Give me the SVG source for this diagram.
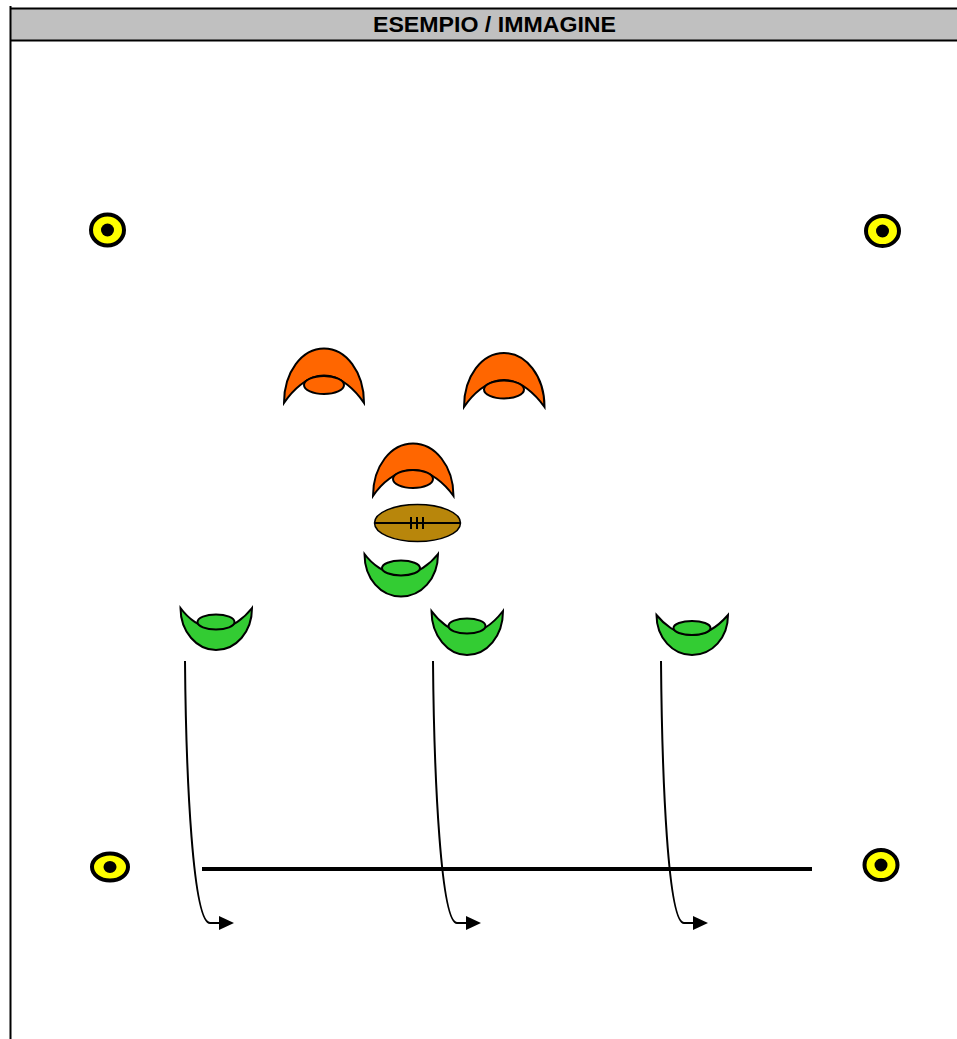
<svg xmlns="http://www.w3.org/2000/svg" width="957" height="1039" viewBox="0 0 957 1039">
<style>
.o{fill:#ff6600;stroke:#000;stroke-width:2;stroke-miterlimit:6}
.g{fill:#33cc33;stroke:#000;stroke-width:2;stroke-miterlimit:6}
.c{fill:#ffff00;stroke:#000;stroke-width:4}
.d{fill:#000}
.l{fill:none;stroke:#000;stroke-width:2}
.t{font-family:"Liberation Sans",Arial,sans-serif;font-weight:bold;font-size:22px;fill:#000;text-anchor:middle}
</style>
<defs>
<marker id="a" markerUnits="userSpaceOnUse" markerWidth="16" markerHeight="14" refX="1" refY="7" orient="auto"><path d="M0 0L15 7L0 14Z" fill="#000"/></marker>
</defs>
<g id="header">
<rect x="10" y="8" width="947" height="33" fill="#c0c0c0"/>
<path d="M10 8.500H957M10 40.500H957" stroke="#000" stroke-width="2" fill="none"/>
<path d="M10.500 6V1039" stroke="#000" stroke-width="2" fill="none"/>
<text class="t" x="494.500" y="32" textLength="243" lengthAdjust="spacingAndGlyphs">ESEMPIO / IMMAGINE</text>
</g>
<g id="cone-tl"><ellipse class="c" cx="107.500" cy="230" rx="16.500" ry="15.500"/><circle class="d" cx="107.500" cy="230" r="6.500"/></g>
<g id="cone-tr"><ellipse class="c" cx="882.500" cy="231" rx="16.500" ry="15"/><circle class="d" cx="882.500" cy="231" r="6.500"/></g>
<g id="cone-bl"><ellipse class="c" cx="110" cy="867" rx="18" ry="13.500"/><ellipse class="d" cx="110" cy="867" rx="6.500" ry="6"/></g>
<g id="cone-br"><ellipse class="c" cx="881" cy="865" rx="16.500" ry="15"/><circle class="d" cx="881" cy="865" r="6.500"/></g>
<g id="defender-1"><path class="o" d="M284 403C284 372 302 348.500 324 348.500C346 348.500 364 372 364 403C356 391 341 375.500 324 375.500C307 375.500 292 391 284 403Z"/><ellipse class="o" cx="324" cy="385" rx="20" ry="9"/></g>
<g id="defender-2"><path class="o" d="M464 407C464 376 482 353 504 353C526 353 544.500 376 544.500 407C536 395 521 380 504 380C487 380 472 395 464 407Z"/><ellipse class="o" cx="504" cy="389.500" rx="20" ry="9"/></g>
<g id="defender-3"><path class="o" d="M373 496C373 466 391 443.500 413 443.500C435 443.500 453.500 466 453.500 496C445 484 430 470 413 470C396 470 381 484 373 496Z"/><ellipse class="o" cx="413" cy="479" rx="20" ry="9"/></g>
<g id="ball"><ellipse cx="417.500" cy="523" rx="43" ry="18.500" fill="#b8860b" stroke="#000" stroke-width="1.500"/><path d="M374 523H461M411 517V529M417 517V529M423 517V529" stroke="#000" stroke-width="2" fill="none"/></g>
<g id="attacker-1"><path class="g" d="M364.500 554C364.500 579 381 596.500 401 596.500C421 596.500 438 579 438 554C431 563 417 575 401 575C385 575 371 563 364.500 554Z"/><ellipse class="g" cx="401" cy="568" rx="19" ry="7.500"/></g>
<g id="attacker-2"><path class="g" d="M180.500 608C180.500 632 197 650 216 650C236 650 252 632 252 608C245 617 232 629 216 629C200 629 187 617 180.500 608Z"/><ellipse class="g" cx="216" cy="622" rx="18.500" ry="7.500"/></g>
<g id="attacker-3"><path class="g" d="M431.500 611C431.500 636 448 655 467 655C487 655 503 636 503 611C496 620 483 633 467 633C451 633 438 620 431.500 611Z"/><ellipse class="g" cx="467" cy="626" rx="18.500" ry="7.500"/></g>
<g id="attacker-4"><path class="g" d="M656.500 615C656.500 638 673 655 692 655C712 655 728 638 728 615C721 623 708 635 692 635C676 635 663 623 656.500 615Z"/><ellipse class="g" cx="692" cy="628" rx="18.500" ry="7"/></g>
<g id="connectors">
<path d="M202 869H812" stroke="#000" stroke-width="4" fill="none"/>
<path class="l" marker-end="url(#a)" d="M185 661C186 780 193 923 210 923Q214 923 220 923"/>
<path class="l" marker-end="url(#a)" d="M433 661C434 780 441 923 457 923Q461 923 467 923"/>
<path class="l" marker-end="url(#a)" d="M661 661C662 780 668 923 684 923Q688 923 694 923"/>
</g>
</svg>
